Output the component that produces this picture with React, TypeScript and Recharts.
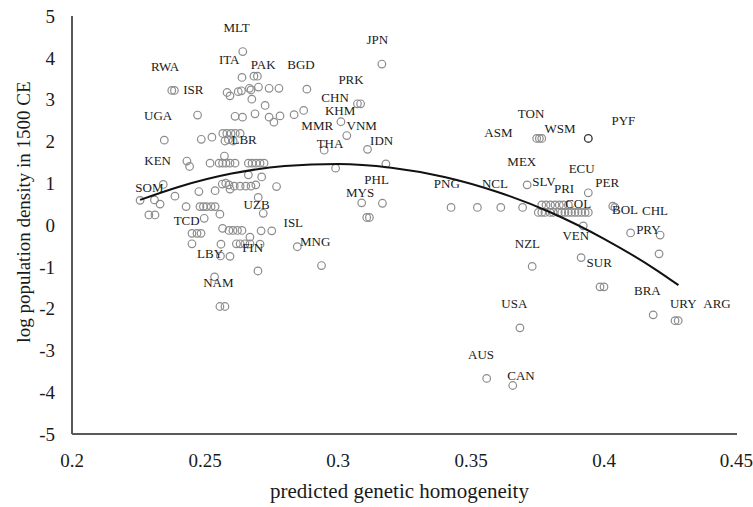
import React from 'react';
import { ComposedChart, Scatter, XAxis, YAxis, Label } from 'recharts';

const FONT = '"Liberation Serif", "Times New Roman", serif';

// x: predicted genetic homogeneity, y: log population density in 1500 CE
const countryPoints: [number, number][] = [
  [0.2642, 4.15], [0.2639, 3.53], [0.2684, 3.56], [0.2697, 3.56],
  [0.2375, 3.22], [0.2385, 3.22], [0.2583, 3.17], [0.2594, 3.09], [0.2625, 3.19], [0.2637, 3.21],
  [0.2667, 3.27], [0.2673, 3.23], [0.2701, 3.30], [0.2741, 3.27], [0.2778, 3.27], [0.2883, 3.25],
  [0.2676, 3.01], [0.2726, 2.86], [0.3165, 3.85], [0.3073, 2.90], [0.3085, 2.90],
  [0.2871, 2.74], [0.2835, 2.64], [0.2782, 2.61], [0.2759, 2.46], [0.3011, 2.47], [0.3033, 2.14],
  [0.2948, 1.79], [0.3111, 1.81], [0.3180, 1.46], [0.2991, 1.36],
  [0.2472, 2.63], [0.2613, 2.60], [0.2641, 2.58], [0.2688, 2.66], [0.2741, 2.58],
  [0.2347, 2.03], [0.2486, 2.05], [0.2526, 2.10],
  [0.2567, 2.19], [0.2582, 2.19], [0.2598, 2.19], [0.2614, 2.19], [0.2632, 2.19],
  [0.2575, 2.01], [0.2588, 2.04], [0.2606, 2.01], [0.2573, 1.65],
  [0.2432, 1.53], [0.2442, 1.40], [0.2519, 1.48],
  [0.2553, 1.48], [0.2566, 1.48], [0.2579, 1.48], [0.2594, 1.48], [0.2613, 1.48],
  [0.2663, 1.48], [0.2677, 1.48], [0.2692, 1.48], [0.2707, 1.48], [0.2722, 1.48],
  [0.2663, 1.20], [0.2713, 1.15], [0.2769, 0.92],
  [0.2256, 0.59], [0.2310, 0.60], [0.2331, 0.50], [0.2343, 0.97], [0.2387, 0.69], [0.2477, 0.80], [0.2538, 0.82],
  [0.2565, 0.98], [0.2578, 1.00], [0.2590, 0.96], [0.2610, 0.93], [0.2632, 0.93], [0.2653, 0.93],
  [0.2673, 0.93], [0.2691, 0.96], [0.2594, 0.86], [0.2700, 0.66],
  [0.2429, 0.44], [0.2481, 0.44], [0.2494, 0.44], [0.2506, 0.44], [0.2523, 0.44], [0.2538, 0.44],
  [0.2556, 0.26], [0.2289, 0.24], [0.2312, 0.24], [0.2497, 0.16], [0.2719, 0.28],
  [0.2451, -0.20], [0.2470, -0.20], [0.2485, -0.20],
  [0.2566, -0.08], [0.2590, -0.13], [0.2605, -0.13], [0.2622, -0.13], [0.2639, -0.13],
  [0.2669, -0.29], [0.2711, -0.14], [0.2751, -0.14],
  [0.2451, -0.45], [0.2560, -0.46], [0.2618, -0.45], [0.2632, -0.45], [0.2650, -0.45], [0.2669, -0.45], [0.2707, -0.46],
  [0.2558, -0.74], [0.2594, -0.75], [0.2847, -0.52], [0.2938, -0.97], [0.2699, -1.10], [0.2536, -1.24],
  [0.2556, -1.95], [0.2575, -1.95],
  [0.3108, 0.18], [0.3118, 0.18], [0.3089, 0.53], [0.3167, 0.52],
  [0.3425, 0.42], [0.3524, 0.42], [0.3612, 0.42], [0.3694, 0.42], [0.3711, 0.96],
  [0.3747, 2.07], [0.3757, 2.07], [0.3766, 2.07], [0.3941, 0.77],
  [0.3766, 0.48], [0.3782, 0.48], [0.3799, 0.48], [0.3816, 0.48], [0.3832, 0.48], [0.3847, 0.48], [0.3866, 0.48],
  [0.3753, 0.30], [0.3766, 0.30], [0.3778, 0.30], [0.3797, 0.30], [0.3809, 0.30], [0.3828, 0.30], [0.3841, 0.30],
  [0.3853, 0.30], [0.3866, 0.30], [0.3878, 0.30], [0.3891, 0.30], [0.3903, 0.30], [0.3916, 0.30], [0.3929, 0.30], [0.3941, 0.30],
  [0.4033, 0.45], [0.4041, 0.42], [0.3922, -0.02], [0.4100, -0.19], [0.4211, -0.24], [0.4207, -0.69],
  [0.3730, -0.99], [0.3914, -0.78], [0.3985, -1.48], [0.4000, -1.48], [0.4185, -2.15],
  [0.4267, -2.29], [0.4279, -2.29], [0.3684, -2.46], [0.3559, -3.67], [0.3657, -3.84],
];

// French Polynesia point drawn darker in the reference
const highlightedPoints: [number, number][] = [[0.3941, 2.07]];

// quadratic fit line
const fitX = [0.2256, 0.24, 0.26, 0.28, 0.30, 0.32, 0.34, 0.36, 0.38, 0.40, 0.42, 0.428];
const fitY = [0.60, 0.91, 1.23, 1.41, 1.46, 1.37, 1.15, 0.79, 0.30, -0.33, -1.09, -1.44];

// country code annotations (text centre, in data units)
const labelCodes = ['MLT', 'ITA', 'PAK', 'BGD', 'RWA', 'ISR', 'UGA', 'LBR', 'KEN', 'CHN', 'KHM', 'MMR', 'VNM', 'THA', 'IDN', 'JPN', 'PRK', 'PHL', 'MYS', 'PNG', 'NCL', 'ASM', 'TON', 'WSM', 'PYF', 'MEX', 'ECU', 'SLV', 'PRI', 'PER', 'COL', 'BOL', 'CHL', 'PRY', 'VEN', 'NZL', 'SUR', 'BRA', 'URY', 'ARG', 'USA', 'AUS', 'CAN', 'SOM', 'TCD', 'UZB', 'ISL', 'MNG', 'LBY', 'FIN', 'NAM'];
const labelX = [0.2619, 0.2591, 0.2719, 0.2861, 0.2350, 0.2456, 0.2324, 0.2647, 0.2322, 0.2989, 0.3008, 0.2922, 0.3089, 0.2970, 0.3164, 0.3148, 0.3049, 0.3145, 0.3083, 0.3409, 0.3590, 0.3603, 0.3726, 0.3835, 0.4073, 0.3691, 0.3916, 0.3774, 0.3850, 0.4012, 0.3903, 0.4079, 0.4192, 0.4167, 0.3894, 0.3712, 0.3982, 0.4163, 0.4298, 0.4425, 0.3663, 0.3538, 0.3688, 0.2291, 0.2431, 0.2694, 0.2832, 0.2914, 0.2519, 0.2679, 0.2550];
const labelY = [4.73, 3.96, 3.84, 3.84, 3.79, 3.23, 2.61, 2.05, 1.54, 3.05, 2.73, 2.38, 2.39, 1.94, 2.02, 4.44, 3.49, 1.08, 0.77, 1.00, 1.00, 2.22, 2.66, 2.31, 2.51, 1.53, 1.34, 1.04, 0.88, 1.01, 0.52, 0.38, 0.34, -0.10, -0.24, -0.44, -0.90, -1.57, -1.87, -1.87, -1.87, -3.09, -3.59, 0.90, 0.10, 0.48, 0.06, -0.40, -0.69, -0.53, -1.38];

const xTicks = [0.2, 0.25, 0.3, 0.35, 0.4, 0.45];
const yTicks = [-5, -4, -3, -2, -1, 0, 1, 2, 3, 4, 5];

const pointData = countryPoints.map(([x, y]) => ({ x, y }));
const highlightData = highlightedPoints.map(([x, y]) => ({ x, y }));
const fitData = fitX.map((x, i) => ({ x, y: fitY[i] }));
const labelData = labelCodes.map((code, i) => ({ code, x: labelX[i], y: labelY[i] }));

const Ring = (props: any) => {
  const { cx, cy } = props;
  if (cx == null || cy == null) return <g />;
  return <circle cx={cx} cy={cy} r={3.8} fill="none" stroke="#8c8c8c" strokeWidth={1.2} />;
};

const DarkRing = (props: any) => {
  const { cx, cy } = props;
  if (cx == null || cy == null) return <g />;
  return <circle cx={cx} cy={cy} r={3.8} fill="none" stroke="#333333" strokeWidth={1.3} />;
};

const Nothing = () => <g />;

const CodeText = (props: any) => {
  const { cx, cy, payload } = props;
  if (cx == null || cy == null) return <g />;
  return (
    <text x={cx} y={cy} textAnchor="middle" dominantBaseline="central" fontFamily={FONT} fontSize={13} fill="#1a1a1a">
      {payload.code}
    </text>
  );
};

const XTitle = (props: any) => {
  const vb = props.viewBox || {};
  return (
    <text x={vb.x + vb.width / 2 - 5} y={vb.y + 64} textAnchor="middle" fontFamily={FONT} fontSize={21} fill="#1a1a1a">
      predicted genetic homogeneity
    </text>
  );
};

const YTitle = (props: any) => {
  const vb = props.viewBox || {};
  const cx = vb.x + 30;
  const cy = vb.y + vb.height / 2 - 13;
  return (
    <text x={cx} y={cy} textAnchor="middle" transform={`rotate(-90, ${cx}, ${cy})`} fontFamily={FONT} fontSize={19} fill="#1a1a1a">
      log population density in 1500 CE
    </text>
  );
};

export default function App() {
  return (
    <div style={{ position: 'absolute', left: 0, top: 0, width: 753, height: 507, background: '#fff' }}>
      <ComposedChart width={753} height={507} margin={{ top: 16, right: 16, left: 0, bottom: 0 }}>
        <XAxis
          type="number"
          dataKey="x"
          domain={[0.2, 0.45]}
          ticks={xTicks}
          allowDataOverflow
          axisLine={{ stroke: '#595959', strokeWidth: 2 }}
          tickLine={false}
          tickSize={0}
          tickMargin={20}
          height={73}
          tick={{ fontFamily: FONT, fontSize: 19, fill: '#1a1a1a' }}
          label={<Label content={XTitle} />}
        />
        <YAxis
          type="number"
          dataKey="y"
          domain={[-5, 5]}
          ticks={yTicks}
          allowDataOverflow
          width={72}
          axisLine={{ stroke: '#595959', strokeWidth: 2 }}
          tickLine={false}
          tickSize={0}
          tickMargin={17}
          tick={{ fontFamily: FONT, fontSize: 19, fill: '#1a1a1a' }}
          label={<Label content={YTitle} />}
        />
        <Scatter data={pointData} shape={Ring} isAnimationActive={false} />
        <Scatter data={highlightData} shape={DarkRing} isAnimationActive={false} />
        <Scatter
          data={fitData}
          shape={Nothing}
          line={{ stroke: '#111111', strokeWidth: 2 }}
          lineType="joint"
          lineJointType="monotoneX"
          isAnimationActive={false}
        />
        <Scatter data={labelData} shape={CodeText} isAnimationActive={false} />
      </ComposedChart>
    </div>
  );
}
